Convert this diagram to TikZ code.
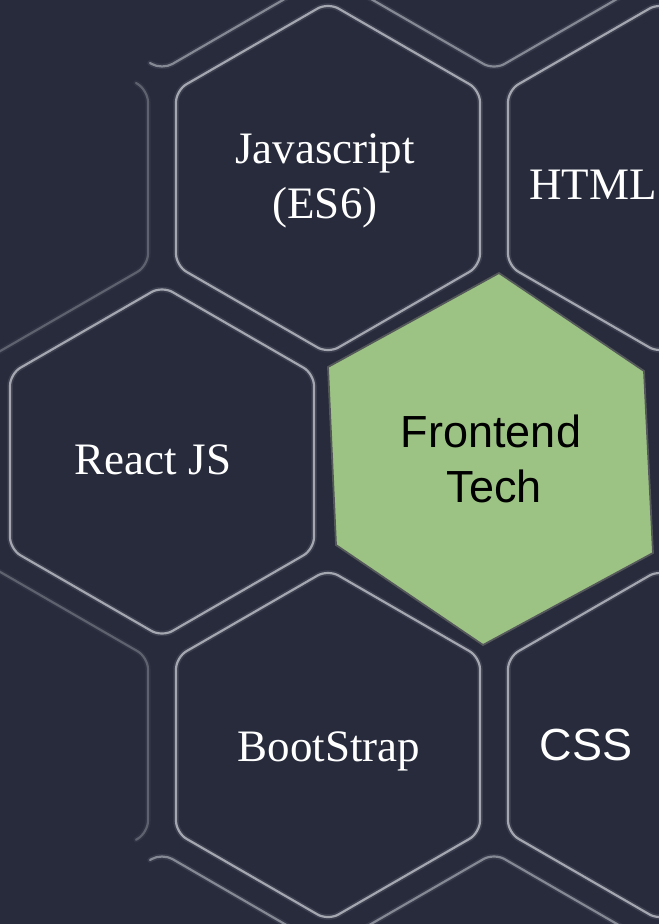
\documentclass[tikz,border=0pt]{standalone}
\usepackage{fontspec}
\setmainfont{Liberation Serif}
\newfontfamily\arialf{Liberation Sans}
\definecolor{bg}{HTML}{272B3C}
\definecolor{hexbright}{HTML}{A4A7B0}
\definecolor{hexmid}{HTML}{858994}
\definecolor{hexdim}{HTML}{5E626E}
\definecolor{greenfill}{HTML}{9DC384}
\definecolor{greenedge}{HTML}{54585A}
\tikzset{
  hexglow/.style={line width=5.5pt, rounded corners=12pt, opacity=0.16, line cap=round},
  hexline/.style={line width=2.2pt, rounded corners=12pt, line cap=round},
  seriflabel/.style={text=white, inner sep=0pt, anchor=base, font=\fontsize{45}{54}\selectfont},
  sanslabel/.style={inner sep=0pt, anchor=base, font=\arialf\fontsize{45}{54}\selectfont},
  greenhex/.style={fill=greenfill, draw=greenedge, line width=1.8pt, line join=miter},
}
% full hexagon: centre x, centre y, colour
\newcommand\hexcell[3]{%
  \foreach \st in {hexglow, hexline}{
    \draw[\st, draw=#3] (#1-152,#2) -- (#1-152,#2-87.75) -- (#1,#2-175.5) -- (#1+152,#2-87.75)
      -- (#1+152,#2+87.75) -- (#1,#2+175.5) -- (#1-152,#2+87.75) -- cycle;
  }%
}
% partial outline: colour, path
\newcommand\hexpart[2]{%
  \foreach \st in {hexglow, hexline}{
    \draw[\st, draw=#1] #2;
  }%
}
\begin{document}
\begin{tikzpicture}[x=1pt, y=-1pt]
  \fill[bg] (0,0) rectangle (659,924);
  \useasboundingbox (0,0) rectangle (659,924);
  \begin{scope}
    \clip (0,0) rectangle (659,924);
    % row -1 (above the picture)
    \hexpart{hexmid}{(150,63) -- (162,70) -- (314,-18)}
    \hexcell{494}{-105.5}{hexmid}
    % row 0
    \hexpart{hexdim}{(136,83) -- (148,90.25) -- (148,265.75) -- (-4,353.5)}
    \hexcell{328}{178}{hexbright}
    \hexcell{660}{178}{hexbright}
    % row 1
    \hexcell{162}{461.5}{hexbright}
    % row 2
    \hexpart{hexdim}{(-4,569.5) -- (148,657.25) -- (148,832.75) -- (136,839.75)}
    \hexcell{328}{745}{hexbright}
    \hexcell{660}{745}{hexbright}
    % row 3 (below the picture)
    \hexpart{hexmid}{(150,860) -- (162,853) -- (314,941)}
    \hexcell{494}{1028.5}{hexmid}
  \end{scope}
  % green hexagon
  \coordinate (gT) at (499,273);
  \coordinate (gUR) at (644,371);
  \coordinate (gLR) at (653,553);
  \coordinate (gB) at (483,645);
  \coordinate (gLL) at (336,545);
  \coordinate (gUL) at (328,367);
  \draw[greenhex] (gT) -- (gUR) -- (gLR) -- (gB) -- (gLL) -- (gUL) -- cycle;
  % labels
  \node[seriflabel] (js1) at (325,163) {Javascript};
  \node[seriflabel] (js2) at (325,218) {(ES6)};
  \node[seriflabel] (html) at (593,199) {HTML};
  \node[seriflabel] (react) at (153,474) {React JS};
  \node[sanslabel] (fe1) at (491,447) {Frontend};
  \node[sanslabel] (fe2) at (494,502) {Tech};
  \node[seriflabel] (boot) at (329,761) {BootStrap};
  \node[sanslabel, text=white] (css) at (586,760) {CSS};
\end{tikzpicture}
\end{document}
